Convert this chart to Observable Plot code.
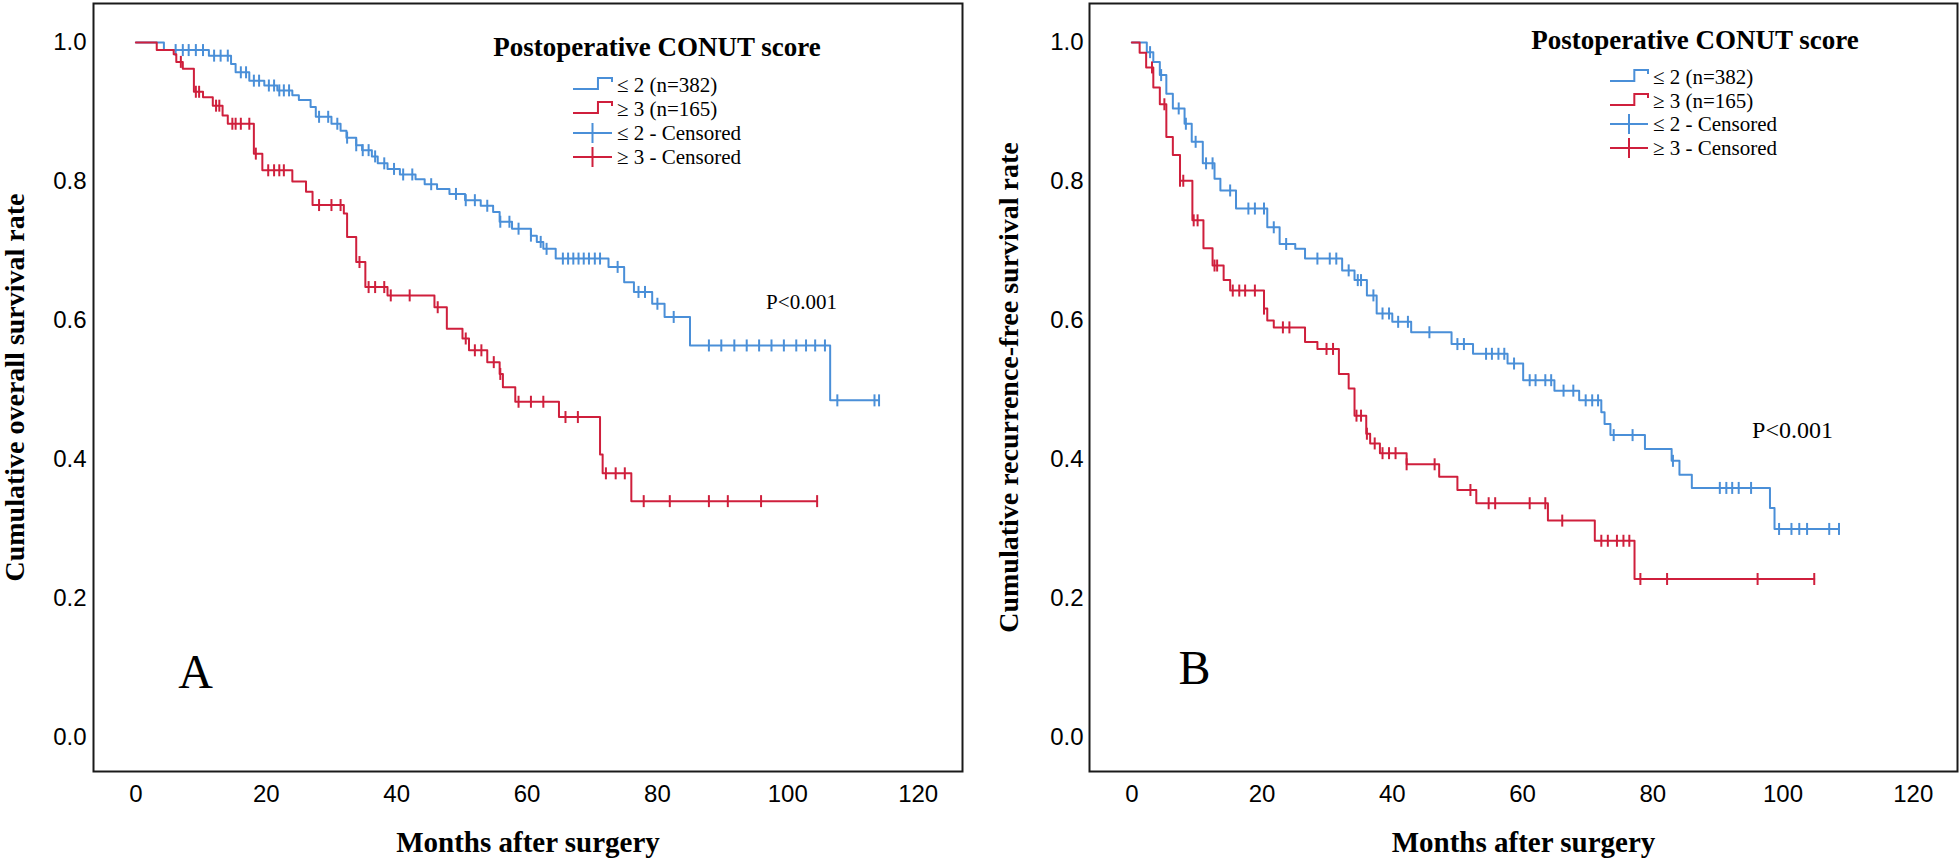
<!DOCTYPE html>
<html><head><meta charset="utf-8">
<script src="https://cdn.jsdelivr.net/npm/d3@7"></script>
<script src="https://cdn.jsdelivr.net/npm/@observablehq/plot@0.6"></script>
<style>
body{margin:0;background:#fff;}
#wrap{position:relative;width:1960px;height:860px;overflow:hidden;background:#fff;}
.panel{position:absolute;top:0;}
</style>
</head><body><div id="wrap"></div>
<script>
// ---------------- DATA ----------------
const xTicks = [0, 20, 40, 60, 80, 100, 120];
const yTicks = [0, 0.2, 0.4, 0.6, 0.8, 1.0];
const legendTitle = "Postoperative CONUT score";
const legendLabels = ["≤ 2 (n=382)", "≥ 3 (n=165)", "≤ 2 - Censored", "≥ 3 - Censored"];
const xTitle = "Months after surgery";
const yTitles = ["Cumulative overall survival rate", "Cumulative recurrence-free survival rate"];
const panelLetters = ["A", "B"];
const pText = "P<0.001";

// Panel A: overall survival, CONUT <= 2  ([month, survival] at each step)
const osLowSteps = [[0,1.0],[4.3,0.989],[11.2,0.981],[14.6,0.969],[15.3,0.957],[17.4,0.945],[19.7,0.938],[21.7,0.931],[24.0,0.924],[25.0,0.917],[26.8,0.907],[27.6,0.893],[30.0,0.883],[31.4,0.873],[32.3,0.863],[33.8,0.852],[34.7,0.845],[36.2,0.836],[37.1,0.826],[38.6,0.818],[40.5,0.810],[42.9,0.803],[44.3,0.796],[46.2,0.789],[48.1,0.782],[50.5,0.773],[52.9,0.765],[54.8,0.756],[55.8,0.742],[57.7,0.732],[60.6,0.722],[61.5,0.713],[62.5,0.703],[64.4,0.689],[72.5,0.677],[74.9,0.655],[76.4,0.641],[79.2,0.624],[81.1,0.605],[85.0,0.564],[106.5,0.485]];
const osLowCensor = [6.1,7.2,8.1,9.2,10.3,12.0,13.0,14.1,16.1,16.9,18.1,18.9,20.4,21.2,22.0,22.7,23.5,28.1,29.5,30.9,32.4,33.8,34.8,35.7,36.7,38.1,39.6,41.0,42.4,45.3,49.1,50.6,52.0,53.9,55.9,57.3,58.7,60.6,62.1,63.0,65.5,66.3,67.1,67.9,68.7,69.5,70.4,71.2,73.9,77.1,78.1,80.0,82.5,87.9,89.8,91.8,93.7,95.6,97.5,99.4,101.3,102.8,104.2,105.7,107.6,113.3,114.0];
const osLowEnd = 114.0;

// Panel A: overall survival, CONUT >= 3
const osHighSteps = [[0,1.0],[3.2,0.989],[5.8,0.983],[6.2,0.972],[7.2,0.962],[8.9,0.929],[10.3,0.921],[11.8,0.909],[13.3,0.895],[14.1,0.883],[18.1,0.840],[19.4,0.816],[24.0,0.800],[26.1,0.785],[27.1,0.766],[31.9,0.754],[32.4,0.720],[33.8,0.684],[35.2,0.648],[38.6,0.636],[45.8,0.619],[47.7,0.588],[50.1,0.574],[51.1,0.557],[53.9,0.540],[55.8,0.523],[56.3,0.504],[58.2,0.483],[64.9,0.461],[71.2,0.407],[71.6,0.380],[76.0,0.340]];
const osHighCensor = [6.9,9.2,9.7,12.3,12.8,14.8,15.3,16.1,17.4,18.4,20.3,21.2,22.0,22.7,28.1,30.0,31.4,34.3,35.7,36.7,38.1,39.1,42.0,46.3,50.6,52.0,53.0,54.9,55.9,58.7,60.6,62.5,65.9,67.8,72.1,73.6,75.0,77.9,81.9,87.9,90.8,95.9,104.5];
const osHighEnd = 104.5;

// Panel B: recurrence-free survival, CONUT <= 2
const rfsLowSteps = [[0,1.0],[2.3,0.986],[3.3,0.972],[4.3,0.953],[5.3,0.926],[6.3,0.905],[8.1,0.883],[9.2,0.857],[10.9,0.826],[12.7,0.804],[13.6,0.787],[16.0,0.761],[20.8,0.734],[22.7,0.710],[25.1,0.703],[26.6,0.689],[32.3,0.672],[34.2,0.658],[36.1,0.636],[37.6,0.610],[40.0,0.598],[42.9,0.583],[49.1,0.566],[52.4,0.552],[57.7,0.538],[60.1,0.514],[64.9,0.499],[68.7,0.485],[72.1,0.468],[72.6,0.451],[73.5,0.435],[78.8,0.415],[82.9,0.398],[84.1,0.378],[86.0,0.359],[98.0,0.330],[98.7,0.300]];
const rfsLowCensor = [2.8,4.5,7.2,8.3,9.8,11.4,12.4,15.1,17.9,18.9,20.3,21.8,23.7,28.5,30.4,31.4,33.3,34.7,35.2,37.1,38.5,39.5,40.9,42.4,45.7,50.0,51.0,54.4,55.3,56.3,57.2,58.7,61.1,62.0,63.5,64.4,66.3,67.8,69.7,70.7,71.6,74.0,76.9,83.1,90.3,91.3,92.2,93.2,95.1,99.4,101.3,102.5,103.7,107.1,108.6];
const rfsLowEnd = 108.6;

// Panel B: recurrence-free survival, CONUT >= 3
const rfsHighSteps = [[0,1.0],[1.2,0.985],[2.2,0.964],[3.3,0.935],[4.3,0.911],[5.3,0.864],[6.3,0.838],[7.4,0.801],[9.3,0.744],[11.0,0.704],[12.4,0.679],[14.1,0.658],[15.1,0.643],[20.3,0.617],[20.8,0.600],[21.8,0.590],[26.6,0.569],[28.5,0.559],[31.8,0.523],[33.3,0.502],[34.2,0.463],[36.0,0.437],[36.6,0.423],[38.1,0.409],[42.2,0.393],[47.2,0.375],[50.0,0.356],[52.9,0.337],[63.9,0.312],[71.1,0.283],[77.2,0.228]];
const rfsHighCensor = [3.1,5.0,7.4,7.9,9.5,10.1,12.7,13.1,15.5,16.5,17.4,18.9,20.3,23.2,24.2,29.9,30.9,34.5,35.2,36.1,37.3,38.5,39.5,40.5,42.2,46.5,52.0,54.8,55.8,61.1,63.5,66.1,72.1,73.1,74.5,75.5,76.4,78.1,82.2,96.1,104.8];
const rfsHighEnd = 104.8;

// ---------------- STYLE ----------------
const BLUE = "#4a8fd8";
const RED = "#cf1f3c";
const SERIF = "'Liberation Serif', 'Times New Roman', serif";
const SANS = "'Liberation Sans', Arial, sans-serif";

function curve(steps, end) { return steps.concat([[end, steps[steps.length - 1][1]]]); }
function survAt(steps, t) { let v = steps[0][1]; for (const [s, y] of steps) if (s <= t) v = y; return v; }
const tickSymbol = { draw(ctx, size) { const h = Math.sqrt(size / Math.PI); ctx.moveTo(0, -h); ctx.lineTo(0, h); } };

function panel(cfg) {
  const series = [
    {steps: cfg.lowSteps, censor: cfg.lowCensor, end: cfg.lowEnd, color: BLUE},
    {steps: cfg.highSteps, censor: cfg.highCensor, end: cfg.highEnd, color: RED}
  ];
  const marks = [];
  for (const s of series) {
    marks.push(Plot.line(curve(s.steps, s.end), {x: d => d[0], y: d => d[1], curve: "step-after", stroke: s.color, strokeWidth: 2}));
    marks.push(Plot.dot(s.censor.map(t => ({t, v: survAt(s.steps, t)})), {x: "t", y: "v", r: 6, symbol: tickSymbol, stroke: s.color, strokeWidth: 2, fill: "none"}));
  }
  marks.push(Plot.frame({stroke: "#1a1a1a", strokeWidth: 2}));
  marks.push(Plot.axisX(xTicks, {tickSize: 0, tickPadding: 13, fontSize: 24, fontFamily: SANS, label: null}));
  marks.push(Plot.axisY(yTicks, {tickSize: 0, tickPadding: cfg.yPad, tickFormat: d3.format(".1f"), fontSize: 24, fontFamily: SANS, label: null}));
  marks.push(Plot.text([xTitle], {frameAnchor: "bottom", dy: 71, textAnchor: "middle", lineAnchor: "middle", fontSize: 29, fontWeight: "bold", fontFamily: SERIF, fill: "#000"}));
  marks.push(Plot.text([cfg.yTitle], {frameAnchor: "left", dx: cfg.yTitleDx, rotate: -90, textAnchor: "middle", lineAnchor: "middle", fontSize: 28, fontWeight: "bold", fontFamily: SERIF, fill: "#000", ariaLabel: "ytitle"}));
  marks.push(Plot.text([cfg.letter], {frameAnchor: "top-left", dx: cfg.letterDx, dy: cfg.letterDy, textAnchor: "middle", lineAnchor: "middle", fontSize: 48, fontFamily: SERIF, fill: "#000"}));
  marks.push(Plot.text([pText], {frameAnchor: "top-left", dx: cfg.pDx, dy: cfg.pDy, textAnchor: "middle", lineAnchor: "middle", fontSize: cfg.pSize, fontFamily: SERIF, fill: "#000"}));
  const svg = Plot.plot({
    width: 980, height: 860,
    marginLeft: cfg.ml, marginRight: cfg.mr, marginTop: 3, marginBottom: 89,
    x: {domain: [-6.5, 126.8]},
    y: {domain: [-0.049, 1.056]},
    style: {fontFamily: SANS, fontSize: "24px", color: "#000", background: "transparent", overflow: "visible"},
    marks
  });
  const root = d3.select(svg);
  root.selectAll('g[aria-label="ytitle"] text').attr("letter-spacing", cfg.ySpacing);
  // legend
  const L = cfg.legend;
  const g = root.append("g");
  g.append("text").attr("x", L.titleX).attr("y", L.titleY + 9).attr("text-anchor", "middle")
    .attr("font-family", SERIF).attr("font-weight", "bold").attr("font-size", 27).attr("fill", "#000").text(legendTitle);
  const colors = [BLUE, RED, BLUE, RED];
  legendLabels.forEach((lab, i) => {
    const cy = L.rows[i], x0 = L.x0, x1 = L.x1;
    if (i < 2) {
      const xm = x0 + (x1 - x0) * 0.64;
      g.append("path").attr("d", `M${x0},${cy + 4}H${xm}V${cy - 7}H${x1}V${cy - 3}`)
        .attr("fill", "none").attr("stroke", colors[i]).attr("stroke-width", 2);
    } else {
      const xm = (x0 + x1) / 2;
      g.append("path").attr("d", `M${x0},${cy}H${x1}M${xm},${cy - 10}V${cy + 10}`)
        .attr("fill", "none").attr("stroke", colors[i]).attr("stroke-width", 2);
    }
    g.append("text").attr("x", x1 + 5).attr("y", cy + 7).attr("text-anchor", "start")
      .attr("font-family", SERIF).attr("font-size", 21).attr("fill", "#000").text(lab);
  });
  return svg;
}

const wrap = document.getElementById("wrap");
const left = panel({
  lowSteps: osLowSteps, lowCensor: osLowCensor, lowEnd: osLowEnd,
  highSteps: osHighSteps, highCensor: osHighCensor, highEnd: osHighEnd,
  ml: 93, mr: 18, yPad: 7, yTitle: yTitles[0], yTitleDx: -78, ySpacing: 1.2,
  letter: panelLetters[0], letterDx: 102, letterDy: 669,
  pDx: 708, pDy: 299, pSize: 21,
  legend: {titleX: 657, titleY: 47, x0: 573, x1: 612, rows: [85, 109, 133, 157]}
});
const right = panel({
  lowSteps: rfsLowSteps, lowCensor: rfsLowCensor, lowEnd: rfsLowEnd,
  highSteps: rfsHighSteps, highCensor: rfsHighCensor, highEnd: rfsHighEnd,
  ml: 109, mr: 3, yPad: 6, yTitle: yTitles[1], yTitleDx: -80, ySpacing: 1.4,
  letter: panelLetters[1], letterDx: 105, letterDy: 665,
  pDx: 703, pDy: 427, pSize: 24,
  legend: {titleX: 715, titleY: 40, x0: 630, x1: 668, rows: [77, 101, 124, 148]}
});
const d1 = document.createElement("div"); d1.className = "panel"; d1.style.left = "0px"; d1.appendChild(left);
const d2 = document.createElement("div"); d2.className = "panel"; d2.style.left = "980px"; d2.appendChild(right);
wrap.appendChild(d1); wrap.appendChild(d2);
</script>
</body></html>
